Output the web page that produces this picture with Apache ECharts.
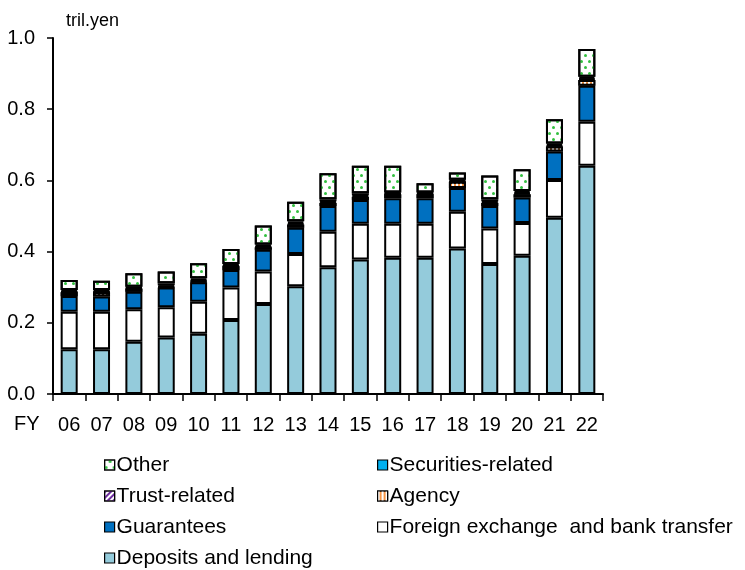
<!DOCTYPE html>
<html>
<head>
<meta charset="utf-8">
<script src="https://cdn.jsdelivr.net/npm/echarts@6/dist/echarts.min.js"></script>
<style>html,body{margin:0;padding:0;background:#fff}#c{width:745px;height:570px}</style>
</head>
<body>
<div id="c"></div>
<script>
const categories = ['06','07','08','09','10','11','12','13','14','15','16','17','18','19','20','21','22'];
const deposits   = [0.126,0.126,0.147,0.159,0.169,0.208,0.253,0.303,0.356,0.378,0.383,0.383,0.409,0.365,0.388,0.495,0.641];
const forex      = [0.105,0.105,0.091,0.085,0.090,0.091,0.091,0.090,0.100,0.100,0.095,0.095,0.103,0.100,0.092,0.106,0.124];
const guarantees = [0.044,0.043,0.049,0.055,0.055,0.049,0.061,0.074,0.072,0.067,0.072,0.072,0.067,0.063,0.072,0.080,0.101];
const agency     = [0.011,0.012,0.009,0.002,0.003,0.011,0.007,0.009,0.009,0.009,0.011,0.011,0.017,0.009,0.009,0.014,0.016];
const trust      = [0.002,0.002,0.002,0.004,0.003,0.002,0.003,0.004,0.004,0.004,0.002,0.002,0.002,0.004,0.004,0.004,0.004];
const securities = [0.004,0.004,0.003,0.006,0.005,0.004,0.005,0.005,0.006,0.006,0.003,0.003,0.004,0.006,0.005,0.005,0.005];
const other      = [0.028,0.026,0.038,0.033,0.042,0.042,0.053,0.055,0.073,0.077,0.075,0.026,0.020,0.067,0.061,0.068,0.078];
const yTicks = [0, 0.2, 0.4, 0.6, 0.8, 1.0];

const FONT = '"Liberation Sans", Arial, sans-serif';
const border = {borderColor:'#000', borderWidth:2};

function mk(name, data, style){
  return {name, type:'bar', stack:'s', data, barWidth:17,
    itemStyle: Object.assign({}, border, style),
    emphasis:{disabled:true}};
}

const series = [
  mk('Deposits and lending', deposits, {color:'#94CBDB'}),
  mk('Foreign exchange  and bank transfer', forex, {color:'#ffffff'}),
  mk('Guarantees', guarantees, {color:'#0070C0'}),
  mk('Agency', agency, {color:'#F79646', decal:{symbol:'rect', color:'#ffffff', symbolSize:1, dashArrayX:[2,2], dashArrayY:[1,0]}}),
  mk('Trust-related', trust, {color:'#ffffff', decal:{symbol:'rect', color:'#7030A0', symbolSize:1, dashArrayX:[1,0], dashArrayY:[2,2], rotation:-Math.PI/4}}),
  mk('Securities-related', securities, {color:'#00B0F0'}),
  mk('Other', other, {color:'#ffffff', decal:{symbol:'circle', color:'#33C040', symbolSize:1, dashArrayX:[[3,5],[0,4,3,1]], dashArrayY:[3,3]}})
];

const legendCommon = {
  orient:'vertical', icon:'rect', itemWidth:10, itemHeight:10, itemGap:9,
  padding:0, height:130,
  selectedMode:false,
  itemStyle:{borderColor:'#000', borderWidth:1.2},
  textStyle:{fontFamily:FONT, fontSize:21, color:'#000', lineHeight:22, padding:[0,0,0,-3]}
};

const chart = echarts.init(document.getElementById('c'), null, {renderer:'canvas'});
chart.setOption({
  animation:false,
  backgroundColor:'#fff',
  grid:{left:53, right:142, top:38, bottom:176},
  xAxis:{type:'category', data:categories,
    axisLine:{lineStyle:{color:'#000', width:2}},
    axisTick:{show:true, length:7, lineStyle:{color:'#000', width:1.5}},
    axisLabel:{fontFamily:FONT, fontSize:20, color:'#000', margin:21}},
  yAxis:{type:'value', min:yTicks[0], max:yTicks[yTicks.length-1], interval:0.2,
    splitLine:{show:false},
    axisLine:{show:true, lineStyle:{color:'#000', width:2}},
    axisTick:{show:true, length:6, lineStyle:{color:'#000', width:1.5}},
    axisLabel:{fontFamily:FONT, fontSize:20, color:'#000', margin:18, formatter:v=>v.toFixed(1)}},
  legend:[
    Object.assign({}, legendCommon, {left:104, top:454, data:['Other','Trust-related','Guarantees','Deposits and lending']}),
    Object.assign({}, legendCommon, {left:377, top:454, data:['Securities-related','Agency','Foreign exchange  and bank transfer']})
  ],
  graphic:[
    {type:'text', left:66, top:12, style:{text:'tril.yen', font:'18px '+FONT, fill:'#000'}},
    {type:'text', left:14, top:414, style:{text:'FY', font:'20px '+FONT, fill:'#000'}}
  ],
  series
});
</script>
</body>
</html>
